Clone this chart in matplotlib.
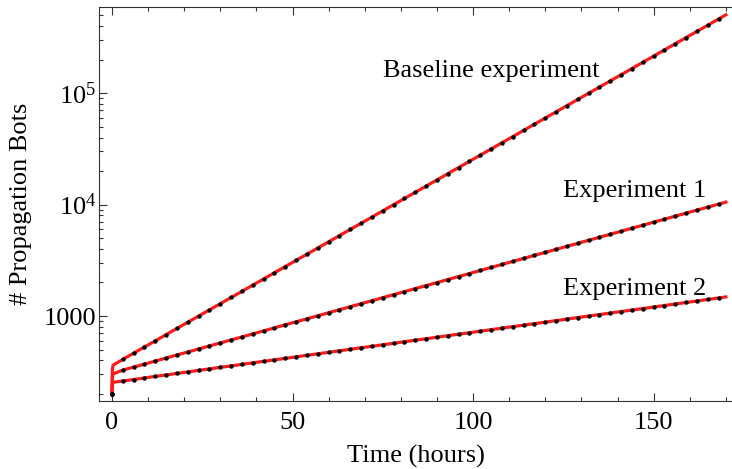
#%% Imports

import numpy as np
import matplotlib.pyplot as plt
from matplotlib.ticker import FixedLocator, LogLocator, MultipleLocator, NullFormatter

#%% Data

# sampled hours for the dots (t = 0 is the shared starting point)
hours = [3, 6, 9, 12, 15, 18, 21, 24, 27, 30, 33, 36, 39, 42, 45, 48, 51, 54, 57, 60,
         63, 66, 69, 72, 75, 78, 81, 84, 87, 90, 93, 96, 99, 102, 105, 108, 111, 114,
         117, 120, 123, 126, 129, 132, 135, 138, 141, 144, 147, 150, 153, 156, 159, 162,
         165, 168]
start_hour = 0
start_bots = 200

baseline = [408, 464, 527, 599, 681, 774, 879, 999, 1135, 1290, 1466, 1666, 1894, 2152,
            2446, 2780, 3159, 3590, 4080, 4637, 5270, 5989, 6806, 7735, 8790, 9990, 11350,
            12900, 14660, 16660, 18940, 21520, 24460, 27800, 31590, 35900, 40800, 46370,
            52700, 59890, 68060, 77350, 87900, 99900, 113500, 129000, 146600, 166600,
            189400, 215200, 244600, 278000, 315900, 359000, 408000, 463700]
exp1 = [327, 348, 370, 394, 420, 447, 475, 506, 539, 573, 610, 649, 691, 736, 783, 834,
        887, 944, 1005, 1070, 1139, 1212, 1290, 1373, 1461, 1555, 1656, 1762, 1876, 1996,
        2125, 2262, 2407, 2562, 2727, 2903, 3089, 3288, 3500, 3725, 3965, 4220, 4492,
        4781, 5089, 5417, 5765, 6136, 6531, 6952, 7399, 7876, 8383, 8922, 9496, 10110]
exp2 = [261, 269, 278, 287, 296, 305, 315, 325, 335, 346, 357, 368, 380, 392, 404, 417,
        430, 444, 458, 472, 487, 503, 519, 535, 552, 569, 588, 606, 625, 645, 666, 687,
        708, 731, 754, 778, 803, 828, 854, 881, 909, 938, 968, 999, 1030, 1063, 1097,
        1131, 1167, 1204, 1242, 1282, 1322, 1364, 1408, 1452]

# red model curve: fast initial jump and value at the right edge
jump_hours = [0, 0.1, 0.3]
baseline_jump = [200, 330, 362]
exp1_jump = [200, 280, 302]
exp2_jump = [200, 240, 254]
end_hour = 170
end_values = [505000, 10530, 1483]

series_names = ['Baseline experiment', 'Experiment 1', 'Experiment 2']
label_pos = [(105, 1.58e5), (144.6, 1.32e4), (144.6, 1746)]

ytick_vals = [1000, 1e4, 1e5]
ytick_labels = ['1000', r'$10^{4}$', r'$10^{5}$']
xtick_vals = [0, 50, 100, 150]

#%% Plot

plt.rcParams['font.family'] = 'Liberation Serif'
plt.rcParams['mathtext.default'] = 'regular'

fs = 19
fig = plt.figure(figsize=(7.32, 4.69), dpi=100)
ax = fig.add_axes([99/732, 1 - 401/469, 1 - 99/732, (401 - 7)/469])

jumps = [baseline_jump, exp1_jump, exp2_jump]
for vals, jump, end_v in zip([baseline, exp1, exp2], jumps, end_values):
    ax.plot(jump_hours + hours + [end_hour], jump + vals + [end_v],
            color='#ff1a1a', lw=2.3, solid_joinstyle='round', zorder=2)
    ax.plot([start_hour] + hours, [start_bots] + vals, 'o', color='black',
            ms=3.2, mec='none', zorder=3)

for name, (tx, ty) in zip(series_names, label_pos):
    ax.text(tx, ty, name, ha='center', va='center', fontsize=fs)

ax.set_yscale('log')
ax.set_xlim(-3.6, 171.7)
ax.set_ylim(172.6, 5.94e5)

ax.yaxis.set_major_locator(FixedLocator(ytick_vals))
ax.set_yticklabels(ytick_labels)
ax.yaxis.set_minor_locator(LogLocator(base=10, subs=np.arange(2, 10), numticks=30))
ax.yaxis.set_minor_formatter(NullFormatter())
ax.set_xticks(xtick_vals)
ax.xaxis.set_minor_locator(MultipleLocator(10))

ax.tick_params(which='both', direction='in', top=True, right=False,
               labelsize=fs, color='#333333', width=0.8)
ax.tick_params(which='major', length=6)
ax.tick_params(which='minor', length=3)
ax.tick_params(axis='x', pad=8)
ax.tick_params(axis='y', pad=2)
ax.spines['right'].set_visible(False)
for s in ['left', 'top', 'bottom']:
    ax.spines[s].set_color('#333333')
    ax.spines[s].set_linewidth(0.8)

ax.set_xlabel('Time (hours)', fontsize=fs, labelpad=8)
ax.set_ylabel('# Propagation Bots', fontsize=fs, labelpad=8)

plt.savefig('out.png', dpi=100)
